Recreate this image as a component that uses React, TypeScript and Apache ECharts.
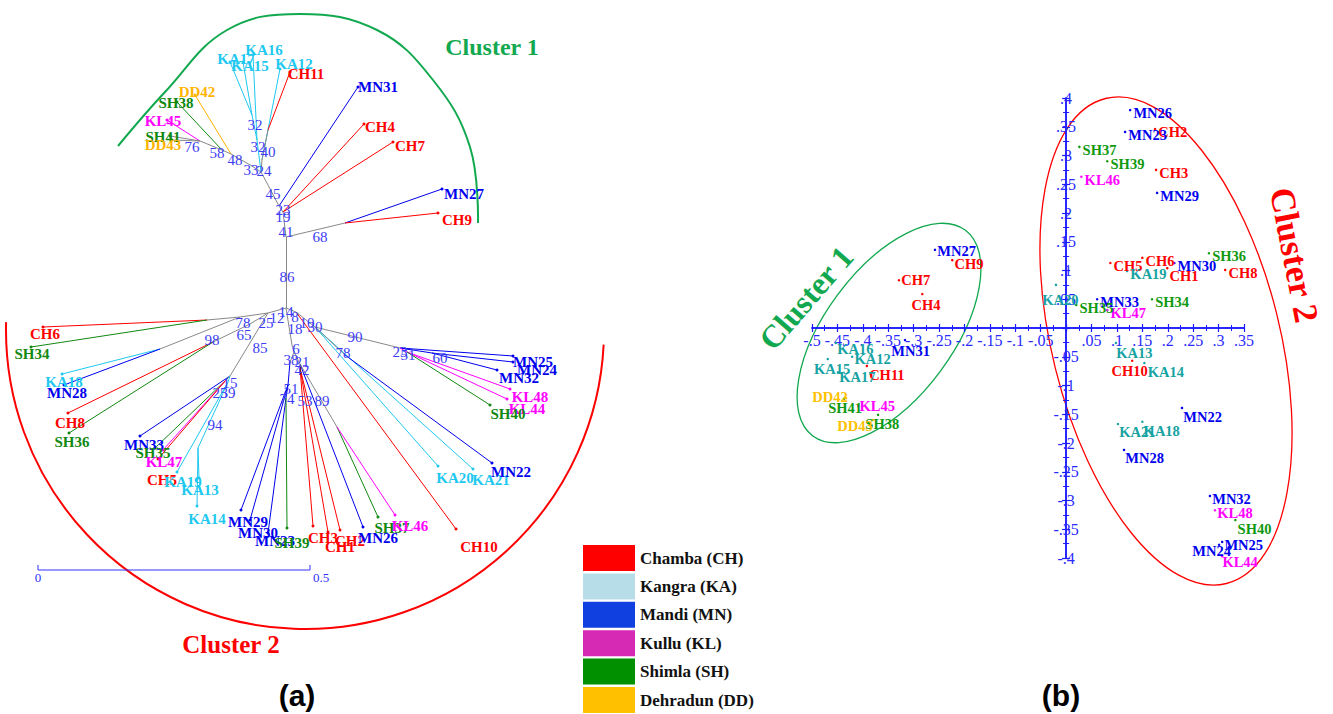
import React, { useEffect, useRef } from "react";
import * as echarts from "echarts";

const SERIF = "'Liberation Serif', 'Times New Roman', serif";
const SANS = "'Liberation Sans', Arial, sans-serif";

// populations: code, legend name, colours (legend / tree / PCoA)
const popCodes = ["CH", "KA", "MN", "KL", "SH", "DD"];
const popNames = ["Chamba (CH)", "Kangra (KA)", "Mandi (MN)", "Kullu (KL)", "Shimla (SH)", "Dehradun (DD)"];
const legendColors = ["#ff0000", "#b7dde8", "#1040e0", "#d62ab5", "#009000", "#ffc000"];
const treeColors = ["#ff0000", "#1ec8f0", "#0000ee", "#ff00ff", "#118811", "#ffb400"];
const pcoaColors = ["#ff0000", "#17a3a3", "#0000ee", "#ff00ff", "#119911", "#ffc000"];

// ---- (a) unrooted neighbour-joining tree: node id, layout x, layout y, parent ----
const treeNodes: [string, number, number, string][] = [
  ["c0", 286, 308, ""],
  ["a41", 286, 237, "c0"],
  ["a68", 345, 223, "a41"],
  ["MN27", 442, 189, "a68"],
  ["CH9", 438, 213, "a68"],
  ["a23", 283, 212, "a41"],
  ["CH4", 364, 124, "a23"],
  ["CH7", 393, 142, "a23"],
  ["a19", 279, 206, "a23"],
  ["MN31", 358, 87, "a19"],
  ["a45", 268, 185, "a19"],
  ["a24", 261, 172, "a45"],
  ["a40", 262, 160, "a24"],
  ["KA12", 280, 69, "a40"],
  ["a40b", 268, 130, "a40"],
  ["CH11", 290, 72, "a40b"],
  ["a32", 257, 140, "a24"],
  ["KA16", 253, 55, "a32"],
  ["a32b", 252, 115, "a32"],
  ["KA17", 230, 62, "a32b"],
  ["KA15", 243, 62, "a32b"],
  ["a33", 252, 166, "a24"],
  ["a48", 231, 154, "a33"],
  ["DD42", 195, 95, "a48"],
  ["a58", 222, 150, "a48"],
  ["SH38", 177, 102, "a58"],
  ["a76", 200, 141, "a58"],
  ["KL45", 167, 120, "a76"],
  ["SH41", 170, 136, "a76"],
  ["DD43", 172, 140, "a76"],
  ["b12", 268, 313, "c0"],
  ["b78", 240, 317, "b12"],
  ["bP", 207, 320, "b78"],
  ["CH6", 43, 327, "bP"],
  ["SH34", 31, 347, "bP"],
  ["bV", 160, 349, "b78"],
  ["KA18", 62, 374, "bV"],
  ["MN28", 64, 385, "bV"],
  ["b65", 250, 324, "b12"],
  ["b98", 213, 342, "b65"],
  ["CH8", 68, 413, "b98"],
  ["SH36", 69, 433, "b98"],
  ["bW", 230, 376, "b12"],
  ["MN33", 140, 436, "bW"],
  ["bW2", 226, 380, "bW"],
  ["SH35", 155, 448, "bW2"],
  ["KL47", 163, 450, "bW2"],
  ["CH5", 158, 459, "bW2"],
  ["bW3", 228, 382, "bW"],
  ["KA19", 177, 472, "bW3"],
  ["b94", 198, 448, "bW3"],
  ["KA13", 199, 478, "b94"],
  ["KA14", 197, 506, "b94"],
  ["b18", 292, 345, "c0"],
  ["b6", 294, 352, "b18"],
  ["b38", 290, 362, "b6"],
  ["b51", 288, 385, "b38"],
  ["MN29", 241, 510, "b51"],
  ["MN30", 250, 520, "b51"],
  ["b74", 286, 398, "b51"],
  ["MN23", 268, 533, "b74"],
  ["SH39", 287, 528, "b74"],
  ["b21", 300, 364, "b6"],
  ["b42", 300, 368, "b21"],
  ["CH3", 313, 526, "b42"],
  ["CH1", 328, 532, "b42"],
  ["CH2", 340, 530, "b42"],
  ["MN26", 363, 527, "b21"],
  ["b89", 337, 427, "b21"],
  ["SH37", 378, 517, "b89"],
  ["KL46", 395, 515, "b89"],
  ["b10", 296, 312, "c0"],
  ["CH10", 456, 529, "b10"],
  ["b30", 315, 327, "b10"],
  ["KA20", 438, 466, "b30"],
  ["KA21", 473, 469, "b30"],
  ["b78r", 345, 355, "b30"],
  ["MN22", 492, 463, "b78r"],
  ["b90", 400, 348, "b30"],
  ["MN25", 513, 356, "b90"],
  ["b60", 432, 353, "b90"],
  ["MN24", 513, 362, "b60"],
  ["MN32", 497, 370, "b60"],
  ["b31", 407, 352, "b90"],
  ["KL48", 510, 389, "b31"],
  ["KL44", 507, 399, "b31"],
  ["SH40", 490, 405, "b31"],
];

// internal branches drawn in a population colour
const internalBranchPop: Record<string, string> = {
  a32: "KA", a32b: "KA", bW3: "KA", b94: "KA", b51: "MN", b74: "MN", b60: "MN", b31: "KL", b42: "CH",
};
const grayLeafBranches = ["SH41", "DD43"];

// bootstrap support values at nodes: value, x, y
const bootstrap: [number, number, number][] = [
  [86, 287, 277], [41, 286, 232], [68, 320, 237], [19, 283, 217], [23, 283, 210], [45, 273, 194],
  [33, 251, 170], [24, 264, 171], [48, 235, 160], [58, 217, 153], [76, 192, 147], [32, 255, 125],
  [32, 258, 147], [40, 268, 152],
  [14, 286, 312], [12, 277, 318], [8, 295, 317], [25, 266, 323], [78, 243, 323], [65, 244, 335],
  [98, 212, 340], [85, 260, 348], [18, 295, 329], [10, 307, 323], [30, 315, 327], [90, 355, 337],
  [78, 343, 353], [6, 296, 349], [38, 291, 360], [21, 302, 362], [42, 302, 370], [51, 291, 389],
  [74, 287, 399], [53, 305, 401], [89, 322, 401], [23, 400, 352], [51, 408, 355], [60, 440, 358],
  [15, 230, 383], [25, 220, 393], [39, 228, 393], [94, 215, 425],
];

// tree leaf label offsets (style)
const treeLabelOffset: Record<string, [number, number]> = {
  KA17: [6, -3], KA15: [7, 4], KA16: [11, -5], KA12: [14, -5], CH11: [16, 2], MN31: [20, 0],
  CH4: [16, 3], CH7: [17, 4], MN27: [22, 5], CH9: [19, 7], DD42: [2, -3], SH38: [-1, 1],
  KL45: [-4, 1], SH41: [-7, 1], DD43: [-9, 5], CH6: [2, 7], SH34: [1, 7], KA18: [2, 8],
  MN28: [3, 8], CH8: [2, 10], SH36: [3, 9], MN33: [4, 9], SH35: [-2, 5], KL47: [1, 12],
  CH5: [4, 21], KA19: [6, 10], KA13: [1, 12], KA14: [10, 13], MN29: [7, 12], MN30: [8, 13],
  MN23: [7, 8], SH39: [5, 15], CH3: [10, 12], CH1: [12, 15], CH2: [10, 11], MN26: [15, 11],
  SH37: [14, 11], KL46: [15, 11], CH10: [23, 18], KA20: [17, 12], KA21: [18, 11], MN22: [19, 9],
  MN25: [20, 6], MN24: [24, 8], MN32: [22, 8], KL48: [20, 8], KL44: [20, 10], SH40: [18, 9],
};

// ---- (b) PCoA: accession, coordinate 1, coordinate 2 ----
const pcoaPoints: [string, number, number][] = [
  ["MN26", 0.126, 0.379], ["MN23", 0.116, 0.341], ["CH2", 0.175, 0.346], ["SH37", 0.026, 0.315],
  ["SH39", 0.081, 0.29], ["KL46", 0.03, 0.263], ["CH3", 0.177, 0.275], ["MN29", 0.179, 0.235],
  ["SH36", 0.281, 0.13], ["CH5", 0.087, 0.113], ["CH6", 0.15, 0.122], ["MN30", 0.213, 0.113],
  ["KA19", 0.12, 0.099], ["CH1", 0.199, 0.104], ["CH8", 0.313, 0.101], ["KA20", -0.02, 0.075],
  ["MN33", 0.061, 0.05], ["SH35", 0.02, 0.04], ["KL47", 0.081, 0.031], ["SH34", 0.169, 0.05],
  ["KA13", 0.098, -0.026], ["CH10", 0.13, -0.057], ["KA14", 0.154, -0.061], ["MN22", 0.228, -0.139],
  ["KA21", 0.102, -0.167], ["KA18", 0.15, -0.163], ["MN28", 0.114, -0.212], ["MN32", 0.283, -0.292],
  ["KL48", 0.293, -0.317], ["SH40", 0.333, -0.334], ["MN25", 0.307, -0.372], ["MN24", 0.301, -0.377],
  ["KL44", 0.307, -0.397],
  ["MN27", -0.258, 0.136], ["CH9", -0.224, 0.118], ["CH7", -0.329, 0.083], ["CH4", -0.283, 0.059],
  ["MN31", -0.317, -0.021], ["KA16", -0.453, -0.026], ["KA12", -0.421, -0.05], ["KA15", -0.469, -0.054],
  ["KA17", -0.449, -0.077], ["CH11", -0.392, -0.066], ["DD42", -0.433, -0.122], ["SH41", -0.437, -0.123],
  ["KL45", -0.409, -0.136], ["SH38", -0.37, -0.151], ["DD43", -0.38, -0.16],
];

// PCoA label offsets relative to a right-hand label (style)
const pcoaLabelOffset: Record<string, [number, number]> = {
  KA20: [-16, 15], KA13: [-2, 10], CH10: [-23, 10], KA14: [1, 9], MN22: [-1, 9], KA21: [-1, 8],
  KA18: [-1, 9], MN28: [-1, 8], MN32: [0, 3], KL48: [0, 3], SH40: [0, 9], MN25: [0, 3],
  MN24: [-29, 6], KL44: [-2, 6], CH1: [0, 8], MN31: [-16, 11], KA16: [-1, 6], KA12: [0, 2],
  KA15: [-16, 10], KA17: [-1, 5], CH11: [0, 9], DD42: [-36, -1], SH41: [-18, 9], KL45: [-1, 0],
  SH38: [-15, 9], DD43: [-38, 6], MN27: [0, 1], CH9: [0, 4], CH7: [0, 0], CH4: [-13, 11],
};

const xTicks = { min: -0.5, max: 0.35, step: 0.05 };
const yTicks = { min: -0.4, max: 0.4, step: 0.05 };

const isLeaf = (id: string) => /^[A-Z]{2}\d+$/.test(id);
const popIndex = (id: string) => popCodes.indexOf(id.slice(0, 2));

function fmtTick(v: number) {
  if (Math.abs(v) < 1e-9) return "";
  const s = Math.abs(v).toFixed(2).replace(/0$/, "").replace(/^0/, "");
  return (v < 0 ? "-" : "") + s;
}

// PCoA plot area in the page
const PB = { left: 812, top: 98, width: 432, height: 460 };

export default function App() {
  const ref = useRef<HTMLDivElement>(null);
  useEffect(() => {
    const chart = echarts.init(ref.current!, null, { renderer: "svg" });
    const nodeMap = new Map(treeNodes.map((n) => [n[0], n]));
    const gray = "#888888";
    const edges = treeNodes
      .filter((n) => n[3])
      .map((n) => {
        const p = nodeMap.get(n[3])!;
        let color = gray;
        if (isLeaf(n[0]) && !grayLeafBranches.includes(n[0])) color = treeColors[popIndex(n[0])];
        else if (internalBranchPop[n[0]]) color = treeColors[popCodes.indexOf(internalBranchPop[n[0]])];
        return { coords: [[p[1], p[2]], [n[1], n[2]]], lineStyle: { color } };
      });
    const leaves = treeNodes
      .filter((n) => isLeaf(n[0]))
      .map((n) => {
        const c = treeColors[popIndex(n[0])];
        return {
          name: n[0],
          value: [n[1], n[2]],
          itemStyle: { color: c, opacity: 1 },
          label: { color: c, offset: treeLabelOffset[n[0]] || [14, 4] },
        };
      });
    const bsData = bootstrap.map((b) => ({ name: String(b[0]), value: [b[1], b[2]] }));

    const axisBlue = "#1a1aff";
    const labelBlue = "#2a2aff";

    // offsets that bring the axes onto the origin (x = 0, y = 0)
    const yZeroPx = PB.top + (PB.height * yTicks.max) / (yTicks.max - yTicks.min);
    const xZeroPx = PB.left + (PB.width * (0 - xTicks.min)) / (xTicks.max - xTicks.min);
    const xOffBottom = yZeroPx - (PB.top + PB.height);
    const xOffTop = PB.top - yZeroPx;
    const yOffLeft = PB.left - xZeroPx;
    const yOffRight = xZeroPx - (PB.left + PB.width);

    const pcoaSeries = popCodes.map((code, i) => ({
      type: "scatter",
      name: popNames[i],
      xAxisIndex: 1,
      yAxisIndex: 1,
      symbolSize: 2.5,
      itemStyle: { color: pcoaColors[i], opacity: 1 },
      silent: true,
      z: 5,
      label: {
        show: true,
        position: "right",
        distance: 1,
        formatter: "{b}",
        color: pcoaColors[i],
        fontFamily: SERIF,
        fontWeight: "bold",
        fontSize: 14.5,
      },
      data: pcoaPoints
        .filter((p) => p[0].startsWith(code))
        .map((p) => ({
          name: p[0],
          value: [p[1], p[2]],
          label: { offset: pcoaLabelOffset[p[0]] || [1, 3] },
        })),
    }));

    const axisCommon = {
      type: "value",
      gridIndex: 1,
      splitLine: { show: false },
      axisLine: { show: true, onZero: false, lineStyle: { color: axisBlue, width: 1.5 } },
      axisTick: { show: true, length: 4, lineStyle: { color: axisBlue, width: 1.2 } },
      minorTick: { show: true, splitNumber: 2, length: 3, lineStyle: { color: axisBlue } },
    };

    const option: any = {
      animation: false,
      backgroundColor: "#ffffff",
      grid: [
        { left: 0, top: 0, width: 600, height: 714 },
        { left: PB.left, top: PB.top, width: PB.width, height: PB.height },
      ],
      xAxis: [
        { gridIndex: 0, type: "value", min: 0, max: 600, show: false },
        {
          ...axisCommon,
          min: xTicks.min,
          max: xTicks.max,
          interval: xTicks.step,
          position: "bottom",
          offset: xOffBottom,
          axisLabel: {
            formatter: fmtTick,
            color: labelBlue,
            fontFamily: SERIF,
            fontSize: 16,
            margin: 4,
            showMinLabel: true,
            showMaxLabel: true,
          },
        },
        {
          ...axisCommon,
          min: xTicks.min,
          max: xTicks.max,
          interval: xTicks.step,
          position: "top",
          offset: xOffTop,
          axisLabel: { show: false },
        },
      ],
      yAxis: [
        { gridIndex: 0, type: "value", min: 0, max: 714, inverse: true, show: false },
        {
          ...axisCommon,
          min: yTicks.min,
          max: yTicks.max,
          interval: yTicks.step,
          position: "left",
          offset: yOffLeft,
          axisLabel: {
            formatter: fmtTick,
            color: labelBlue,
            fontFamily: SERIF,
            fontSize: 16,
            margin: 0,
            align: "center",
            padding: [16, 0, 0, 0],
            showMinLabel: true,
            showMaxLabel: true,
          },
        },
        {
          ...axisCommon,
          min: yTicks.min,
          max: yTicks.max,
          interval: yTicks.step,
          position: "right",
          offset: yOffRight,
          axisLabel: { show: false },
        },
      ],
      legend: {
        orient: "vertical",
        left: 583,
        top: 545,
        height: 175,
        padding: 0,
        itemWidth: 52,
        itemHeight: 26,
        itemGap: 2.4,
        icon: "rect",
        selectedMode: false,
        itemStyle: { opacity: 1, borderWidth: 0 },
        textStyle: { fontFamily: SERIF, fontWeight: "bold", fontSize: 17, color: "#111" },
        data: popNames.map((n, i) => ({ name: n, itemStyle: { color: legendColors[i], opacity: 1 } })),
      },
      series: [
        {
          type: "lines",
          coordinateSystem: "cartesian2d",
          xAxisIndex: 0,
          yAxisIndex: 0,
          silent: true,
          lineStyle: { width: 1, opacity: 1, curveness: 0 },
          data: edges,
          z: 2,
        },
        {
          type: "scatter",
          name: "leaves",
          xAxisIndex: 0,
          yAxisIndex: 0,
          symbolSize: 3,
          silent: true,
          z: 3,
          itemStyle: { opacity: 1 },
          label: {
            show: true,
            position: "inside",
            formatter: "{b}",
            fontFamily: SERIF,
            fontWeight: "bold",
            fontSize: 15,
          },
          data: leaves,
        },
        {
          type: "scatter",
          name: "bootstrap",
          xAxisIndex: 0,
          yAxisIndex: 0,
          symbolSize: 0,
          silent: true,
          z: 4,
          itemStyle: { opacity: 1 },
          label: {
            show: true,
            position: "inside",
            formatter: "{b}",
            fontFamily: SERIF,
            fontSize: 15,
            color: "#3c3cf5",
          },
          data: bsData,
        },
        ...pcoaSeries,
      ],
      graphic: [
        {
          type: "polyline",
          silent: true,
          shape: {
            points: [[118, 146], [165, 92], [227, 30], [300, 14], [377, 30], [433, 80], [470, 147], [478, 223]],
            smooth: 0.4,
          },
          style: { stroke: "#12a84f", lineWidth: 2, fill: "none" },
        },
        {
          type: "arc",
          silent: true,
          shape: { cx: 305, cy: 330, r: 299, startAngle: 0.049, endAngle: 3.168, clockwise: true },
          style: { stroke: "#ff0000", lineWidth: 2, fill: "none" },
        },
        { type: "line", silent: true, shape: { x1: 38, y1: 570, x2: 310, y2: 570 }, style: { stroke: "#3030ff", lineWidth: 1 } },
        { type: "line", silent: true, shape: { x1: 38, y1: 565, x2: 38, y2: 570 }, style: { stroke: "#3030ff", lineWidth: 1 } },
        { type: "line", silent: true, shape: { x1: 310, y1: 565, x2: 310, y2: 570 }, style: { stroke: "#3030ff", lineWidth: 1 } },
        { type: "text", silent: true, x: 38, y: 577, style: { text: "0", fill: "#3030ff", fontFamily: SERIF, fontSize: 13, align: "center", verticalAlign: "middle" } },
        { type: "text", silent: true, x: 321, y: 577, style: { text: "0.5", fill: "#3030ff", fontFamily: SERIF, fontSize: 13, align: "center", verticalAlign: "middle" } },
        { type: "text", silent: true, x: 492, y: 47, style: { text: "Cluster 1", fill: "#12a84f", fontFamily: SERIF, fontWeight: "bold", fontSize: 24, align: "center", verticalAlign: "middle" } },
        { type: "text", silent: true, x: 231, y: 644, style: { text: "Cluster 2", fill: "#ff0000", fontFamily: SERIF, fontWeight: "bold", fontSize: 25, align: "center", verticalAlign: "middle" } },
        { type: "text", silent: true, x: 297, y: 695, style: { text: "(a)", fill: "#000", fontFamily: SANS, fontWeight: "bold", fontSize: 30, align: "center", verticalAlign: "middle" } },
        { type: "text", silent: true, x: 1061, y: 695, style: { text: "(b)", fill: "#000", fontFamily: SANS, fontWeight: "bold", fontSize: 30, align: "center", verticalAlign: "middle" } },
        {
          type: "ellipse",
          silent: true,
          x: 889,
          y: 333,
          rotation: (53.5 * Math.PI) / 180,
          shape: { cx: 0, cy: 0, rx: 128, ry: 64 },
          style: { stroke: "#12a84f", lineWidth: 1.3, fill: "none" },
        },
        {
          type: "ellipse",
          silent: true,
          x: 1166,
          y: 341,
          rotation: (14 * Math.PI) / 180,
          shape: { cx: 0, cy: 0, rx: 114, ry: 250 },
          style: { stroke: "#ff0000", lineWidth: 1.3, fill: "none" },
        },
        {
          type: "text",
          silent: true,
          x: 806,
          y: 298,
          rotation: (49 * Math.PI) / 180,
          style: { text: "Cluster 1", fill: "#12a84f", fontFamily: SERIF, fontWeight: "bold", fontSize: 32, align: "center", verticalAlign: "middle" },
        },
        {
          type: "text",
          silent: true,
          x: 1294,
          y: 255,
          rotation: (-79 * Math.PI) / 180,
          style: { text: "Cluster 2", fill: "#ff0000", fontFamily: SERIF, fontWeight: "bold", fontSize: 35, align: "center", verticalAlign: "middle" },
        },
      ],
    };
    chart.setOption(option);
    return () => chart.dispose();
  }, []);
  return (
    <div
      ref={ref}
      style={{ position: "absolute", left: 0, top: 0, width: 1333, height: 714, background: "#fff" }}
    />
  );
}
